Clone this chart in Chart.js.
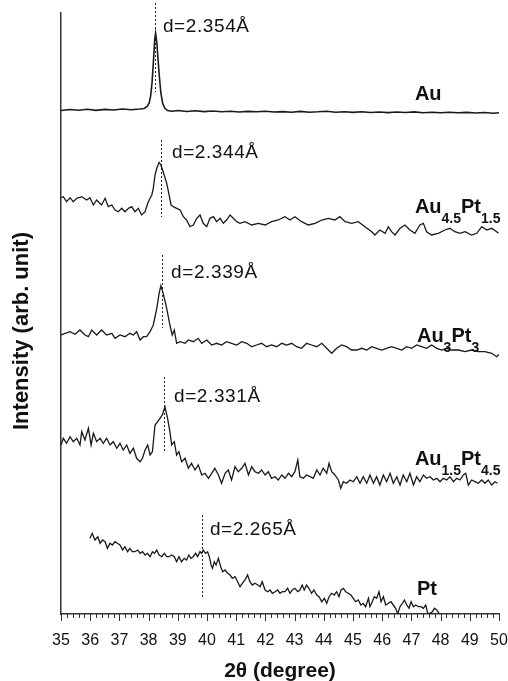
<!DOCTYPE html>
<html>
<head>
<meta charset="utf-8">
<title>XRD Au-Pt</title>
<script src="https://cdn.jsdelivr.net/npm/chart.js@4.4.1/dist/chart.umd.min.js"></script>
<style>
    html, body { margin: 0; padding: 0; background: #fff; }
    #wrap { width: 508px; height: 681px; }
</style>
</head>
<body>
<div id="wrap"><canvas id="xrdChart" width="508" height="681"></canvas></div>
<script>
// 2theta (degree) and intensity (arb. unit, stacking offset already in)
var auX = [35,35.3,35.6,35.9,36.2,36.5,36.8,37.1,37.4,37.7,37.85,37.95,38.02,38.07,38.12,38.17,38.21,38.24,38.28,38.32,38.37,38.42,38.48,38.55,38.65,38.8,39,39.3,39.6,39.9,40.2,40.5,40.8,41.1,41.4,41.7,42,42.3,42.6,42.9,43.2,43.5,43.8,44.1,44.4,44.7,45,45.3,45.6,45.9,46.2,46.5,46.8,47.1,47.4,47.7,48,48.3,48.6,48.9,49.2,49.5,49.8,50];
var auY = [503.5,504.5,503.8,504.8,503.6,504.6,504,505,504.2,505,505.5,507.5,511,518,532,555,575,581,572,556,537,521,511,506,503.5,502.8,503.5,502.5,503.2,502.4,503,502.2,502.8,502,502.6,502.2,502.8,502,502.4,501.8,502.6,501.8,502.2,502.8,501.8,502.3,501.6,502.2,501.5,502,501.4,502,501.5,502.1,501.3,501.8,501.2,501.8,501.2,501.6,501,501.5,500.8,501.2];

var au45X = [35,35.08,35.19,35.31,35.42,35.54,35.71,35.88,35.99,36.11,36.22,36.39,36.51,36.62,36.74,36.85,36.96,37.08,37.19,37.31,37.42,37.53,37.65,37.76,37.88,37.97,38.05,38.11,38.16,38.22,38.28,38.36,38.42,38.5,38.62,38.68,38.77,38.85,38.96,39.08,39.19,39.3,39.42,39.53,39.65,39.76,39.87,39.99,40.1,40.22,40.33,40.45,40.56,40.67,40.79,40.9,41.02,41.13,41.3,41.53,41.76,41.99,42.21,42.44,42.67,42.84,43.01,43.24,43.47,43.7,43.93,44.16,44.38,44.55,44.73,44.95,45.18,45.41,45.64,45.75,45.92,46.1,46.21,46.32,46.44,46.61,46.78,46.95,47.12,47.29,47.41,47.52,47.69,47.92,48.15,48.32,48.49,48.66,48.84,49.06,49.24,49.41,49.58,49.75,49.92,49.98];
var au45Y = [416.3,417.3,412.3,416.3,412.3,415.7,417.3,414,416.3,409,414,409,415.7,407.3,409,404,402.3,405.7,402.3,405.7,407.3,402.3,405.7,399,402.3,410.7,415.7,419,425.7,439,445.7,451.7,449,442.3,430.7,422.3,409,407.3,405.7,404,397.3,394,387.3,389,395.7,399,390.7,387.3,395.7,397.3,392.3,395.7,390.7,394,399,395.7,392.3,390.7,392.3,389,390.7,389,392.3,394,397.3,394,397.3,392.3,389,390.7,394,395.7,394,397.3,392.3,390.7,392.3,387.3,382.3,379,384,380.7,387.3,382.3,379,385.7,389,384,380.7,389,390.7,382.3,379,380.7,384,385.7,382.3,380.7,382.3,379,380.7,387.3,384,385.7,382.3,380.7];

var au3X = [35,35.14,35.31,35.48,35.65,35.82,35.94,36.05,36.22,36.39,36.56,36.74,36.85,37.02,37.19,37.36,37.48,37.59,37.71,37.82,37.93,38.05,38.16,38.28,38.36,38.42,38.5,38.62,38.73,38.81,38.88,38.96,39.08,39.25,39.36,39.53,39.7,39.82,39.99,40.16,40.33,40.5,40.67,40.84,41.02,41.19,41.36,41.53,41.7,41.87,42.04,42.21,42.39,42.56,42.73,42.9,43.07,43.24,43.41,43.58,43.76,43.93,44.1,44.27,44.44,44.61,44.78,44.95,45.13,45.3,45.47,45.64,45.81,45.98,46.15,46.32,46.5,46.67,46.84,47.01,47.18,47.35,47.52,47.69,47.87,48.04,48.21,48.38,48.61,48.84,49.06,49.29,49.52,49.75,49.92,50];
var au3Y = [279,280.7,282.3,279.7,284,279,277.3,284,279,284,279,280.7,275.7,279,277.3,280.7,279,282.3,274,277.3,277.3,282.3,289,305.7,320.7,328.3,320.7,305.7,289,279,284,270.7,272.3,270.7,274,272.3,275.7,270.7,274,269,270.7,269,272.3,270.7,269,272.3,270.7,267.3,269,270.7,267.3,269,267.3,270.7,269,270.7,267.3,265.7,270.7,269,267.3,270.7,265.7,260.7,265.7,269,267.3,264,264,265.7,264,267.3,265.7,264,265.7,267.3,265.7,264,267.3,265.7,269,267.3,265.7,269,265.7,264,265.7,264,264,262.3,264,262.3,262.3,260.7,257.3,259.7];

var au15X = [35,35.08,35.19,35.31,35.42,35.54,35.65,35.71,35.82,35.94,36.03,36.11,36.22,36.34,36.45,36.56,36.68,36.79,36.91,37.02,37.13,37.25,37.36,37.48,37.59,37.71,37.79,37.88,37.97,38.05,38.13,38.22,38.31,38.39,38.47,38.56,38.65,38.73,38.79,38.88,38.96,39.04,39.13,39.25,39.36,39.47,39.59,39.7,39.82,39.93,40.05,40.16,40.27,40.39,40.5,40.62,40.73,40.84,40.96,41.07,41.19,41.3,41.42,41.53,41.64,41.76,41.87,41.99,42.1,42.21,42.33,42.44,42.56,42.67,42.79,42.9,43.01,43.11,43.18,43.3,43.41,43.53,43.64,43.76,43.87,43.98,44.1,44.18,44.27,44.38,44.5,44.58,44.67,44.78,44.9,45.01,45.13,45.24,45.35,45.47,45.58,45.7,45.81,45.92,46.04,46.15,46.27,46.38,46.5,46.61,46.72,46.84,46.95,47.07,47.18,47.29,47.41,47.52,47.64,47.75,47.87,47.98,48.09,48.21,48.32,48.44,48.55,48.66,48.78,48.86,48.95,49.06,49.18,49.29,49.41,49.52,49.63,49.75,49.86,49.95];
var au15Y = [169,175.7,170.7,177.3,172.3,175.7,169,182.3,174,185.7,169,180.7,172.3,175.7,170.7,175.7,169,172.3,165.7,170.7,164,169,160.7,165.7,155.7,152.3,155.7,164,169,159,162.3,189,192.3,195.7,199,207.3,195.7,182.3,169,172.3,159,162.3,152.3,155.7,145.7,150.7,144,149,139,140.7,135.7,140.7,145.7,139,130.7,140.7,144,134,147.3,142.3,145.7,150.7,139,147.3,142.3,140.7,144,139,142.3,135.7,137.3,134,139,135.7,140.7,137.3,142.3,154,137.3,135.7,139,137.3,135.7,144,139,145.7,140.7,150.7,142.3,139,134,125.7,132.3,130.7,134,132.3,137.3,130.7,137.3,130.7,139,130.7,137.3,129,139,132.3,140.7,130.7,137.3,129,139,132.3,140.7,129,137.3,132.3,139,135.7,137.3,134,135.7,132.3,135.7,134,137.3,132.3,135.7,134,139,140.7,129,134,132.3,130.7,134,130.7,134,129,132.3,130.7];

var ptX = [35.99,36.07,36.16,36.26,36.34,36.42,36.51,36.59,36.68,36.76,36.85,36.93,37.02,37.11,37.19,37.28,37.36,37.44,37.53,37.63,37.71,37.79,37.88,37.96,38.05,38.13,38.2,38.28,38.36,38.45,38.54,38.62,38.7,38.79,38.88,38.96,39.04,39.13,39.22,39.3,39.38,39.45,39.53,39.61,39.68,39.76,39.82,39.87,39.95,40.02,40.08,40.14,40.19,40.25,40.31,40.39,40.47,40.54,40.62,40.71,40.79,40.87,40.96,41.05,41.13,41.21,41.3,41.39,41.47,41.55,41.64,41.74,41.82,41.89,41.99,42.08,42.16,42.24,42.33,42.42,42.5,42.58,42.67,42.76,42.84,42.92,43.01,43.11,43.18,43.26,43.33,43.41,43.49,43.58,43.66,43.76,43.84,43.93,44.02,44.1,44.18,44.27,44.36,44.44,44.52,44.59,44.67,44.75,44.84,44.93,45.01,45.09,45.18,45.27,45.35,45.43,45.53,45.58,45.66,45.73,45.81,45.89,45.96,46.04,46.12,46.21,46.3,46.38,46.46,46.53,46.61,46.69,46.76,46.84,46.92,46.99,47.07,47.15,47.24,47.33,47.41,47.49,47.56,47.64,47.72,47.79,47.87,47.95];
var ptY = [75.7,80.7,74,77.3,70.7,74,72.3,65.7,70.7,69,72.3,70.7,69,64,67.3,62.3,65.7,62.3,62.3,64,60.7,62.3,59,60.7,57.3,62.3,60.7,64,59,57.3,60.7,57.3,57.3,59,57.3,52.3,57.3,52.3,55.7,54,59,55.7,57.3,60.7,57.3,62.3,60.7,64,60.7,62.3,57.3,49,45.7,52.3,49,55.7,47.3,42.3,44,40.7,39,35.7,37.3,32.3,27.3,30.7,34,39,32.3,29,30.7,29,27.3,32.3,24,22.3,24,20.7,22.3,24,20.7,22.3,22.3,25.7,20.7,24,25.7,22.3,24,29,24,29,25.7,20.7,24,19,17.3,12.3,15.7,10.7,17.3,20.7,19,22.3,17.3,24,25.7,22.3,20.7,19,15.7,12.3,14,9,10.7,7.3,15.7,7.3,12.3,17.3,15.7,22.3,12.3,17.3,9,10.7,12.3,9,5.7,0.3,7.3,10.7,14,9,5.7,12.3,7.3,9,7.3,7.3,5.7,9,0.7,0.7,2.3,5.7,4,0.3];

var tickLabels = ['35','36','37','38','39','40','41','42','43','44','45','46','47','48','49','50'];

// d-spacing markers: where the dotted line sits and its label
var dPeakPos = [38.22, 38.41, 38.45, 38.54, 39.82];
var dLabels = ['d=2.354Å', 'd=2.344Å', 'd=2.339Å', 'd=2.331Å', 'd=2.265Å'];

// sample names, [text, isSubscript]
var sampleNames = [
    [['Au', false]],
    [['Au', false], ['4.5', true], ['Pt', false], ['1.5', true]],
    [['Au', false], ['3', true], ['Pt', false], ['3', true]],
    [['Au', false], ['1.5', true], ['Pt', false], ['4.5', true]],
    [['Pt', false]]
];

// annotation placement (data coords)
var dLineTop = [611, 474, 359, 237, 99];
var dLineBottom = [522, 397, 286, 161, 17];
var dTextAt = [[38.49, 582], [38.80, 456], [38.77, 336], [38.87, 212], [40.10, 79]];
var nameAt = [[47.12, 514], [47.12, 401], [47.19, 272], [47.12, 149], [47.19, 19]];

var FONT = '"Liberation Sans", Arial, sans-serif';

function toPoints(xs, ys) {
    var pts = [];
    for (var i = 0; i < xs.length; i++) pts.push({x: xs[i], y: ys[i]});
    return pts;
}

function series(xs, ys, w) {
    return {
        data: toPoints(xs, ys),
        borderColor: '#1a1a1a',
        borderWidth: w,
        pointRadius: 0,
        tension: 0,
        fill: false
    };
}

var extras = {
    id: 'extras',
    afterDatasetsDraw: function (chart) {
        var ctx = chart.ctx, xs = chart.scales.x, ys = chart.scales.y;
        ctx.save();
        ctx.strokeStyle = '#222';
        ctx.lineWidth = 1;
        ctx.setLineDash([2, 2]);
        for (var i = 0; i < dPeakPos.length; i++) {
            var px = Math.round(xs.getPixelForValue(dPeakPos[i])) + 0.5;
            ctx.beginPath();
            ctx.moveTo(px, ys.getPixelForValue(dLineTop[i]));
            ctx.lineTo(px, ys.getPixelForValue(dLineBottom[i]));
            ctx.stroke();
        }
        ctx.restore();
    },
    afterDraw: function (chart) {
        var ctx = chart.ctx, xs = chart.scales.x, ys = chart.scales.y, area = chart.chartArea;
        ctx.save();
        // tick marks, majors longer than the 0.2 minors
        ctx.strokeStyle = '#333';
        ctx.lineWidth = 1;
        xs.ticks.forEach(function (t) {
            var major = Math.abs(t.value - Math.round(t.value)) < 1e-6;
            var px = Math.round(xs.getPixelForValue(t.value)) + 0.5;
            ctx.beginPath();
            ctx.moveTo(px, area.bottom);
            ctx.lineTo(px, area.bottom + (major ? 7 : 4));
            ctx.stroke();
        });

        ctx.fillStyle = '#111';
        ctx.textBaseline = 'alphabetic';
        ctx.textAlign = 'left';
        // d labels
        ctx.font = '19px ' + FONT;
        ctx.letterSpacing = '0.6px';
        for (var i = 0; i < dLabels.length; i++) {
            ctx.fillText(dLabels[i], xs.getPixelForValue(dTextAt[i][0]), ys.getPixelForValue(dTextAt[i][1]));
        }
        ctx.letterSpacing = '0px';
        // sample names with subscripts
        for (var j = 0; j < sampleNames.length; j++) {
            var x = xs.getPixelForValue(nameAt[j][0]);
            var y = ys.getPixelForValue(nameAt[j][1]);
            sampleNames[j].forEach(function (part) {
                ctx.font = part[1] ? 'bold 14px ' + FONT : 'bold 20px ' + FONT;
                ctx.fillText(part[0], x, part[1] ? y + 10 : y);
                x += ctx.measureText(part[0]).width;
            });
        }
        // axis titles
        ctx.textAlign = 'center';
        ctx.textBaseline = 'middle';
        ctx.font = 'bold 21px ' + FONT;
        ctx.fillText('2θ (degree)', (area.left + area.right) / 2, 671);
        ctx.translate(22, 331);
        ctx.rotate(-Math.PI / 2);
        ctx.font = 'bold 22px ' + FONT;
        ctx.fillText('Intensity (arb. unit)', 0, 0);
        ctx.restore();
    }
};

new Chart(document.getElementById('xrdChart'), {
    type: 'line',
    data: {
        datasets: [
            series(auX, auY, 1.6),
            series(au45X, au45Y, 1.3),
            series(au3X, au3Y, 1.3),
            series(au15X, au15Y, 1.3),
            series(ptX, ptY, 1.3)
        ]
    },
    plugins: [extras],
    options: {
        responsive: false,
        animation: false,
        layout: { padding: { top: 13, right: 9, left: 0, bottom: 0 } },
        plugins: { legend: { display: false }, tooltip: { enabled: false } },
        scales: {
            x: {
                type: 'linear',
                min: 35,
                max: 50,
                // keep the plot box fixed, the end labels may hang over
                afterFit: function (s) { s.height = 67; s.paddingLeft = 0; s.paddingRight = 0; },
                grid: { display: false, drawTicks: false },
                border: { display: true, color: '#333', width: 1.5 },
                ticks: {
                    stepSize: 0.2,
                    autoSkip: false,
                    maxRotation: 0,
                    padding: 17,
                    color: '#111',
                    font: { family: FONT, size: 16 },
                    callback: function (v) {
                        var r = Math.round(v);
                        if (Math.abs(v - r) > 1e-6) return '';
                        return tickLabels[r - 35];
                    }
                }
            },
            y: {
                min: 0,
                max: 601,
                afterFit: function (s) { s.width = 61; },
                grid: { display: false, drawTicks: false },
                border: { display: true, color: '#333', width: 1.5 },
                ticks: { display: false }
            }
        }
    }
});
</script>
</body>
</html>
